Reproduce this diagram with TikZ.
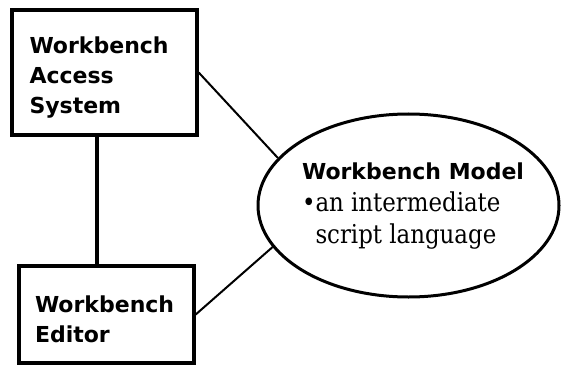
\documentclass[tikz,border=0pt]{standalone}
\usepackage{fontspec}
\setmainfont{DejaVu Sans}
\newfontfamily\modelfont[FakeStretch=0.88]{DejaVu Serif}
\usepackage{tikz}
\usetikzlibrary{shapes.geometric}

\begin{document}
\begin{tikzpicture}[x=1pt,y=-1pt,
  box/.style={draw,line width=3.4pt,align=left,
    font=\fontsize{22}{30}\selectfont\bfseries},
  link/.style={line width=2pt}]
  \useasboundingbox (0,0) rectangle (561,366);
  % Boxes on the left
  \node[box,minimum width=185pt,minimum height=125pt,text width=150pt] (access) at (104.5,72.5) {\rule{0pt}{27pt}Workbench\\Access\\System};
  \node[box,minimum width=175pt,minimum height=97pt,text width=143pt] (editor) at (106.5,314.5) {\rule{0pt}{27pt}Workbench\\Editor};
  % Model ellipse
  \node[draw,ellipse,line width=3pt,minimum width=301pt,minimum height=183pt] (model) at (408.5,205.5) {};
  \node[align=left,font=\fontsize{22}{32}\selectfont] (modeltext) at (413,206)
    {\textbf{Workbench Model}\\{\fontsize{26}{32}\modelfont\textbullet an intermediate}\\{\fontsize{26}{32}\modelfont\hphantom{\textbullet}script language}};
  % Connectors
  \draw[line width=3.4pt] ([xshift=-7.5pt]access.south) -- ([xshift=-7.5pt]access.south |- editor.north);
  \draw[link] (access.east) -- (model.160);
  \draw[link] (editor.east) -- (model.197);
\end{tikzpicture}
\end{document}
